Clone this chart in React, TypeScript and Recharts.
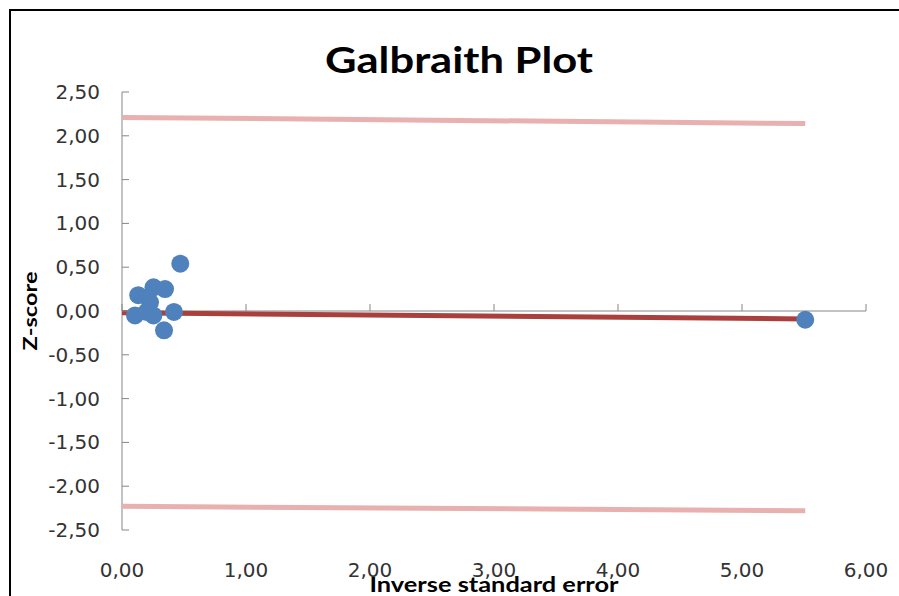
import { Label, ReferenceLine, Scatter, ScatterChart, XAxis, YAxis } from 'recharts';

const W = 899;
const H = 596;

const xTicks = [0, 1, 2, 3, 4, 5, 6];
const yTicks = [-2.5, -2, -1.5, -1, -0.5, 0, 0.5, 1, 1.5, 2, 2.5];

// inverse standard error / z-score for each study
const precision = [0.47, 0.254, 0.347, 0.131, 0.226, 0.105, 0.199, 0.253, 0.419, 0.339, 5.51];
const zScore = [0.54, 0.27, 0.25, 0.18, 0.1, -0.05, -0.01, -0.05, -0.01, -0.22, -0.1];

// regression line and the +/- 2 band, read at both ends
const lineX = [0, 5.51];
const regY = [-0.02, -0.09];
const upperY = [2.21, 2.14];
const lowerY = [-2.23, -2.28];

const points = precision.map((x, i) => ({ x, y: zScore[i] }));
const toLine = (ys: number[]) => lineX.map((x, i) => ({ x, y: ys[i] }));

const AXIS = '#868686';
const TICK_MARGIN = 22;
const fmt = (v: number) => v.toFixed(2).replace('.', ',');

function YTick(props: any) {
  const { x, y, payload } = props;
  return (
    <g>
      <line x1={x + TICK_MARGIN} x2={x + TICK_MARGIN + 7} y1={y} y2={y} stroke={AXIS} />
      <text x={x} y={y} dy={7} textAnchor="end" fontSize={20} fill="#333">
        {fmt(payload.value)}
      </text>
    </g>
  );
}

// horizontal axis crossing at z = 0, ticks pointing up
function ZeroAxis(props: any) {
  const { x1, x2, y1 } = props;
  const step = (x2 - x1) / (xTicks.length - 1);
  return (
    <g>
      <line x1={x1} x2={x2} y1={y1} y2={y1} stroke={AXIS} />
      {xTicks.map((t, i) => (
        <line key={t} x1={x1 + i * step} x2={x1 + i * step} y1={y1} y2={y1 - 7} stroke={AXIS} />
      ))}
    </g>
  );
}

const dot = (p: any) => <circle cx={p.cx} cy={p.cy} r={9} fill="#4F81BD" />;
const noDot = () => <g />;

export default function App() {
  return (
    <div style={{ position: 'absolute', left: 0, top: 0, width: W, height: H, background: '#fff', fontFamily: '"DejaVu Sans", sans-serif' }}>
      <div
        style={{
          position: 'absolute',
          left: 9,
          top: 9,
          width: W,
          height: H,
          borderTop: '2px solid #000',
          borderLeft: '2px solid #000',
        }}
      />
      <svg style={{ position: 'absolute', left: 0, top: 0 }} width={W} height={100}>
        <text x={459} y={73} textAnchor="middle" fontFamily="Lato" fontWeight={700} fontSize={37} textLength={268} lengthAdjust="spacingAndGlyphs" fill="#000">
          Galbraith Plot
        </text>
      </svg>
      <div style={{ position: 'absolute', left: 0, top: 0 }}>
        <ScatterChart width={W} height={H} margin={{ top: 92, right: 33, bottom: 0, left: 0 }}>
          <XAxis
            type="number"
            dataKey="x"
            domain={[0, 6]}
            ticks={xTicks}
            axisLine={false}
            tickLine={false}
            tickSize={0}
            tickMargin={33}
            height={66}
            tickFormatter={fmt}
            tick={{ fontSize: 20, fill: '#333' }}
          >
            <Label
              content={(p: any) => (
                <text
                  x={p.viewBox.x + p.viewBox.width / 2}
                  y={p.viewBox.y + 62}
                  textAnchor="middle"
                  fontFamily="Lato"
                  fontWeight={700}
                  fontSize={20}
                  textLength={249}
                  lengthAdjust="spacingAndGlyphs"
                  fill="#000"
                >
                  Inverse standard error
                </text>
              )}
            />
          </XAxis>
          <YAxis
            type="number"
            dataKey="y"
            domain={[-2.5, 2.5]}
            ticks={yTicks}
            width={122}
            axisLine={{ stroke: AXIS }}
            tickLine={false}
            tickSize={0}
            tickMargin={TICK_MARGIN}
            tick={<YTick />}
          >
            <Label
              content={(p: any) => {
                const cx = 31;
                const cy = p.viewBox.y + p.viewBox.height / 2;
                return (
                  <text
                    x={cx}
                    y={cy}
                    transform={`rotate(-90 ${cx} ${cy})`}
                    dy={6}
                    textAnchor="middle"
                    fontFamily="Lato"
                    fontWeight={700}
                    fontSize={18}
                    textLength={79}
                    lengthAdjust="spacingAndGlyphs"
                    fill="#000"
                  >
                    Z-score
                  </text>
                );
              }}
            />
          </YAxis>
          <ReferenceLine y={0} shape={<ZeroAxis />} />
          <Scatter data={toLine(upperY)} line={{ stroke: '#E8B0AF', strokeWidth: 5 }} shape={noDot} isAnimationActive={false} />
          <Scatter data={toLine(lowerY)} line={{ stroke: '#E8B0AF', strokeWidth: 5 }} shape={noDot} isAnimationActive={false} />
          <Scatter data={toLine(regY)} line={{ stroke: '#A9403D', strokeWidth: 5 }} shape={noDot} isAnimationActive={false} />
          <Scatter data={points} shape={dot} isAnimationActive={false} />
        </ScatterChart>
      </div>
    </div>
  );
}
